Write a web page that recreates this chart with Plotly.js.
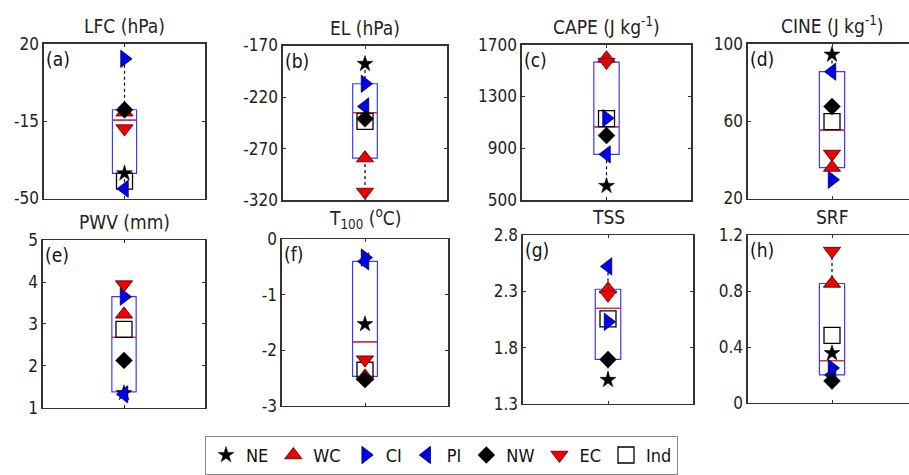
<!DOCTYPE html>
<html><head><meta charset="utf-8">
<script src="https://cdn.plot.ly/plotly-3.0.1.min.js"></script>
<style>html,body{margin:0;padding:0;overflow:hidden;background:#fff}#chart{width:930px;height:475px}</style>
</head><body><div id="chart"></div>
<script>
// ---- data ----
const panelLabels = ['(a)','(b)','(c)','(d)','(e)','(f)','(g)','(h)'];
const titles = ['LFC (hPa)','EL (hPa)','CAPE (J kg<sup>-1</sup>)','CINE (J kg<sup>-1</sup>)','PWV (mm)','T<sub>100</sub> (<sup>o</sup>C)','TSS','SRF'];
const NE  = [-38.6, -187.8,  612, 94.3, 1.35, -1.53, 1.513, 0.356];
const WC  = [-11.0, -279.0, 1595, 36.0, 3.23, -2.47, 2.320, 0.855];
const CI  = [ 13.1, -207.0, 1133, 29.7, 3.65, -0.33, 2.030, 0.250];
const PI  = [-45.6, -229.0,  855, 85.5, 1.32, -0.40, 2.523, 0.200];
const NW  = [ -9.9, -241.0, 1000, 67.5, 2.13, -2.53, 1.695, 0.157];
const EC  = [-18.4, -311.8, 1565, 43.0, 3.94, -2.17, 2.270, 1.087];
const IND = [-42.1, -243.4, 1130, 59.7, 2.87, -2.36, 2.056, 0.483];
const Q1     = [-38.6, -279.0,  855, 36.0, 1.38, -2.47, 1.695, 0.200];
const MEDIAN = [-14.6, -235.0, 1067, 55.3, 2.68, -1.85, 2.151, 0.302];
const Q3     = [ -9.9, -207.0, 1565, 85.5, 3.65, -0.40, 2.320, 0.855];
const LOWER  = [-45.6, -311.8,  612, 29.7, 1.32, -2.53, 1.513, 0.157];
const UPPER  = [ 13.1, -187.8, 1595, 94.3, 3.94, -0.33, 2.523, 1.087];
const yRanges = [[-50,20],[-320,-170],[500,1700],[20,100],[1,5],[-3,0],[1.3,2.8],[0,1.2]];
const yTickVals = [[-50,-15,20],[-320,-270,-220,-170],[500,900,1300,1700],[20,60,100],[1,2,3,4,5],[-3,-2,-1,0],[1.3,1.8,2.3,2.8],[0,0.4,0.8,1.2]];
const yTickText = [['-50','-15','20'],['-320','-270','-220','-170'],['500','900','1300','1700'],['20','60','100'],['1','2','3','4','5'],['-3','-2','-1','0'],['1.3','1.8','2.3','2.8'],['0','0.4','0.8','1.2']];

// ---- layout geometry (pixels) ----
const W = 930, H = 475;
const frames = [[44,205,45,205],[283,447,47,207],[522,691,46,207],[748,916,45,205],
                [43,205,248,421],[282,448,247,419],[523,693,243,417],[748,916,243,416]];
const FONT = '"DejaVu Sans Condensed", "DejaVu Sans", sans-serif';
const AX = '#333';

const groups = [
  {name:'Ind', data:IND, symbol:'square-open', size:16, color:'#000', line:{color:'#000',width:1.3}, rank:7},
  {name:'NE', data:NE, symbol:'star', size:12, color:'#000', line:{color:'#000',width:0.5}, rank:1},
  {name:'WC', data:WC, symbol:'triangle-up', size:15, color:'#ee0000', line:{color:'#400',width:0.8}, rank:2},
  {name:'CI', data:CI, symbol:'triangle-right', size:15, color:'#0000ee', line:{color:'#000050',width:0.8}, rank:3},
  {name:'PI', data:PI, symbol:'triangle-left', size:15, color:'#0000ee', line:{color:'#000050',width:0.8}, rank:4},
  {name:'NW', data:NW, symbol:'diamond', size:13, color:'#000', line:{color:'#000',width:0.5}, rank:5},
  {name:'EC', data:EC, symbol:'triangle-down', size:15, color:'#ee0000', line:{color:'#400',width:0.8}, rank:6}
];

const traces = [];
const layout = {
  width: W, height: H, margin:{l:0,r:0,t:0,b:0},
  paper_bgcolor:'#fff', plot_bgcolor:'#fff', showlegend:true,
  font:{family:FONT, color:'#222', size:15},
  legend:{orientation:'h', x:205/W, xanchor:'left', y:1-450/H, yanchor:'top',
          bordercolor:'#888', borderwidth:1, bgcolor:'#fff',
          font:{family:'"Liberation Sans Narrow", "DejaVu Sans Condensed", sans-serif', size:18, color:'#111'},
          traceorder:'normal', itemclick:false},
  annotations:[], boxmode:'overlay'
};

for (let i = 0; i < 8; i++) {
  const n = i + 1, xa = 'x' + (n===1?'':n), ya = 'y' + (n===1?'':n);
  const f = frames[i];
  layout['xaxis' + (n===1?'':n)] = {
    domain:[f[0]/W, f[1]/W], anchor:ya, range:[0,2], tickvals:[1], showticklabels:false,
    ticks:'inside', ticklen:3, tickcolor:AX, showline:true, mirror:'ticks', linecolor:AX, linewidth:1.6,
    showgrid:false, zeroline:false, fixedrange:true
  };
  layout['yaxis' + (n===1?'':n)] = {
    domain:[1-f[3]/H, 1-f[2]/H], anchor:xa, range:yRanges[i], tickvals:yTickVals[i], ticktext:yTickText[i],
    ticks:'inside', ticklen:3, tickcolor:AX, showline:true, mirror:'ticks', linecolor:AX, linewidth:1.6,
    showgrid:false, zeroline:false, fixedrange:true, tickfont:{size:17, color:'#222', family:FONT}
  };
  // whiskers
  traces.push({type:'scatter', mode:'lines', xaxis:xa, yaxis:ya, showlegend:false, hoverinfo:'skip',
    x:[1,1,null,1,1], y:[UPPER[i], Q3[i], null, Q1[i], LOWER[i]],
    line:{color:'#000', width:1.2, dash:'dot'}});
  // box
  traces.push({type:'box', xaxis:xa, yaxis:ya, showlegend:false, hoverinfo:'skip',
    x:[1], q1:[Q1[i]], median:[MEDIAN[i]], q3:[Q3[i]], lowerfence:[Q1[i]], upperfence:[Q3[i]],
    width:0.3, whiskerwidth:0, boxpoints:false, fillcolor:'rgba(255,255,255,0)',
    line:{color:'#3a3aff', width:1.2}});
  // median in red
  traces.push({type:'scatter', mode:'lines', xaxis:xa, yaxis:ya, showlegend:false, hoverinfo:'skip',
    x:[0.85, 1.15], y:[MEDIAN[i], MEDIAN[i]], line:{color:'#ff2020', width:1.2}});
  // region markers
  groups.forEach(g => {
    traces.push({type:'scatter', mode:'markers', xaxis:xa, yaxis:ya, name:g.name, legendgroup:g.name,
      legendrank:g.rank, showlegend:i===0, hoverinfo:'name+y',
      x:[1], y:[g.data[i]], marker:{symbol:g.symbol, size:g.size, color:g.color, line:g.line}});
  });
  layout.annotations.push({text:titles[i], xref:xa+' domain', yref:ya+' domain', x:0.5, y:1,
    xanchor:'center', yanchor:'bottom', yshift:5, showarrow:false, font:{size:19, color:'#222', family:FONT}});
  layout.annotations.push({text:panelLabels[i], xref:xa+' domain', yref:ya+' domain', x:0, y:1,
    xanchor:'left', yanchor:'top', xshift:0, yshift:-2, showarrow:false, font:{size:19, color:'#111', family:FONT}});
}

Plotly.newPlot('chart', traces, layout, {staticPlot:true, displayModeBar:false});
</script>
</body></html>
